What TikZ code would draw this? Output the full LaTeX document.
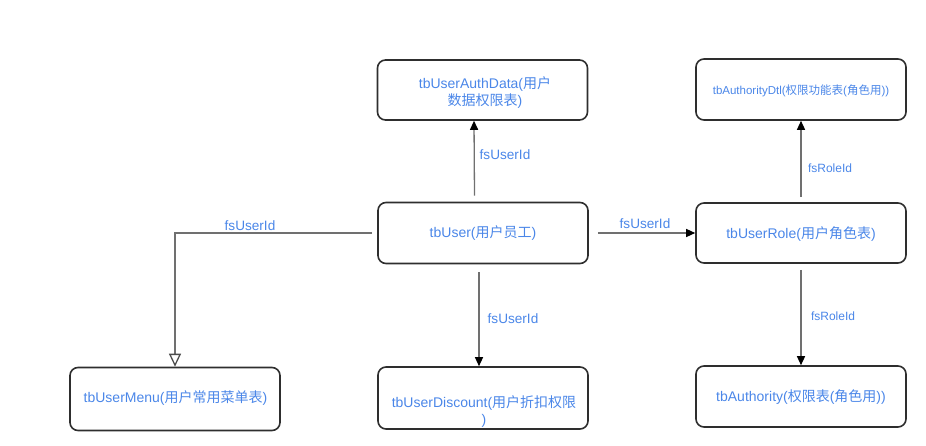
\documentclass[tikz,border=0pt]{standalone}
\usepackage{fontspec}
\setmainfont{Liberation Sans}
\newfontfamily\cjk{Noto Sans CJK SC}
\usetikzlibrary{arrows.meta}
\definecolor{txtblue}{HTML}{4A86E8}
\definecolor{conngray}{HTML}{707070}
\definecolor{boxdark}{HTML}{2E2E2E}
\begin{document}
\begin{tikzpicture}[x=1pt,y=-1pt,
  box/.style={draw=boxdark, line width=1.6pt, rounded corners=8pt, minimum width=210pt, minimum height=60pt, inner sep=0pt},
  txt/.style={text=txtblue, font=\fontsize{14}{17}\selectfont, align=center, inner sep=0pt},
  smalltxt/.style={text=txtblue, font=\fontsize{11.5}{14}\selectfont, inner sep=0pt},
  lbl/.style={text=txtblue, font=\fontsize{13.6}{16}\selectfont, inner sep=0pt},
  rlbl/.style={text=txtblue, font=\fontsize{12}{14}\selectfont, inner sep=0pt},
  conn/.style={draw=conngray, line width=1.3pt, -{Triangle[length=9pt,width=8pt,color=black]}},
  openconn/.style={draw=conngray, line width=1.3pt, -{Triangle[open,length=13pt,width=12pt,fill=white,color=black!70]}}
]
\useasboundingbox (0,0) rectangle (926,446);

% boxes
\node[box] (ad) at (482.5,90) {};
\node[box, minimum height=61pt] (dtl) at (801,89.5) {};
\node[box, minimum height=61pt] (u) at (483,233) {};
\node[box] (role) at (801,233) {};
\node[box, minimum height=63pt] (menu) at (175,399) {};
\node[box, minimum height=62pt] (disc) at (483,398) {};
\node[box, minimum height=61pt] (auth) at (801,396.5) {};

% texts
\node[txt] (tad) at (485,93) {tbUserAuthData({\cjk 用户}\\{\cjk 数据权限表})};
\node[smalltxt] (tdtl) at (801,90.5) {tbAuthorityDtl({\cjk 权限功能表}({\cjk 角色用}))};
\node[txt] (tu) at (483,233.5) {tbUser({\cjk 用户员工})};
\node[txt] (trole) at (801,234) {tbUserRole({\cjk 用户角色表})};
\node[txt] (tmenu) at (175.5,398.5) {tbUserMenu({\cjk 用户常用菜单表})};
\node[txt] (tdisc) at (484,412) {tbUserDiscount({\cjk 用户折扣权限}\\)};
\node[txt] (tauth) at (801,397.5) {tbAuthority({\cjk 权限表}({\cjk 角色用}))};

% connectors
\draw[conn] ([xshift=-8.5pt,yshift=6pt]u.north) -- ([xshift=-8.5pt]ad.south);
\draw[conn] ([xshift=-4pt,yshift=-8pt]u.south) -- ([xshift=-4pt]disc.north);
\draw[openconn] ([xshift=-5pt]u.west) -| (menu.north);
\draw[conn] ([xshift=9pt]u.east) -- (role.west);
\draw[conn] ([yshift=5pt]role.north) -- (dtl.south);
\draw[conn] ([yshift=-6pt]role.south) -- (auth.north);

% labels
\node[lbl] (l1) at (505,155) {fsUserId};
\node[lbl] (l2) at (250,226) {fsUserId};
\node[lbl] (l3) at (645,224) {fsUserId};
\node[lbl] (l4) at (513,319) {fsUserId};
\node[rlbl] (l5) at (830,168) {fsRoleId};
\node[rlbl] (l6) at (833,316) {fsRoleId};
\end{tikzpicture}
\end{document}
